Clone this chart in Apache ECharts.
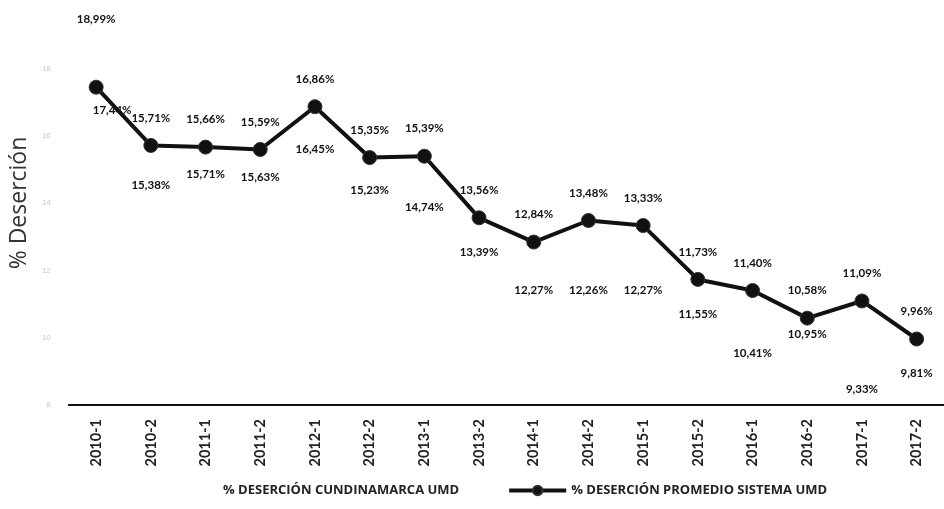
<!DOCTYPE html>
<html><head><meta charset="utf-8">
<script src="https://cdn.jsdelivr.net/npm/echarts@6/dist/echarts.min.js"></script>
<style>html,body{margin:0;padding:0;background:#fff}#c{width:944px;height:509px}</style>
</head><body><div id="c"></div>
<script>
const categories = ['2010-1','2010-2','2011-1','2011-2','2012-1','2012-2','2013-1','2013-2','2014-1','2014-2','2015-1','2015-2','2016-1','2016-2','2017-1','2017-2'];
const cundinamarca = [18.99,15.38,15.71,15.63,16.45,15.23,14.74,13.39,12.27,12.26,12.27,11.55,10.41,10.95,9.33,9.81];
const promedio = [17.44,15.71,15.66,15.59,16.86,15.35,15.39,13.56,12.84,13.48,13.33,11.73,11.40,10.58,11.09,9.96];
const seriesNames = ['% DESERCIÓN CUNDINAMARCA UMD','% DESERCIÓN PROMEDIO SISTEMA UMD'];
const yTicks = {min: 8, max: 20, interval: 2};

const fmt = p => p.value.toFixed(2).replace('.', ',') + '%';
const lblBase = {show: true, formatter: fmt, color: '#111', fontFamily: 'Lato', fontWeight: 'bold', fontSize: 11.5};

const cundData = cundinamarca.map((v, i) => i === 0
  ? {value: v, label: {position: 'top', distance: 9}}
  : {value: v});
const promData = promedio.map((v, i) => i === 0
  ? {value: v, label: {position: 'bottom', distance: 10, offset: [16, 0]}}
  : {value: v});

const chart = echarts.init(document.getElementById('c'));
chart.setOption({
  backgroundColor: '#fff',
  animation: false,
  grid: {left: 65, right: -12, top: 1, bottom: 104, containLabel: false},
  legend: {
    left: 156, bottom: 7, itemWidth: 57, itemHeight: 12, itemGap: 48,
    textStyle: {fontFamily: 'Open Sans', fontSize: 13, fontWeight: 'bold', color: '#222'},
    data: [
      {name: seriesNames[0]},
      {name: seriesNames[1], lineStyle: {width: 4, color: '#111'}, itemStyle: {color: '#111'}}
    ]
  },
  xAxis: {
    type: 'category', data: categories, boundaryGap: true,
    axisLine: {lineStyle: {color: '#111', width: 2}},
    axisTick: {show: false},
    axisLabel: {rotate: 90, margin: 14, fontFamily: 'Lato', fontSize: 14.5, fontWeight: 'bold', color: '#222', interval: 0}
  },
  yAxis: {
    type: 'value', min: yTicks.min, max: yTicks.max, interval: yTicks.interval,
    name: '% Deserción', nameLocation: 'middle', nameGap: 31, nameRotate: 90,
    nameTextStyle: {fontFamily: 'Open Sans', fontSize: 23, color: '#333'},
    axisLine: {show: false}, axisTick: {show: false}, splitLine: {show: false},
    axisLabel: {color: '#c8c8c8', fontSize: 8, margin: 18, showMaxLabel: false}
  },
  series: [
    {
      name: seriesNames[0], type: 'line', data: cundData,
      symbol: 'circle', symbolSize: 2,
      itemStyle: {color: 'rgba(0,0,0,0)'},
      lineStyle: {color: 'rgba(0,0,0,0)', width: 0},
      label: Object.assign({}, lblBase, {position: 'bottom', distance: 22}),
      z: 1
    },
    {
      name: seriesNames[1], type: 'line', data: promData,
      symbol: 'circle', symbolSize: 14,
      itemStyle: {color: '#111', borderColor: '#333', borderWidth: 1},
      lineStyle: {color: '#111', width: 4},
      label: Object.assign({}, lblBase, {position: 'top', distance: 14}),
      z: 3
    }
  ]
});
</script></body></html>
